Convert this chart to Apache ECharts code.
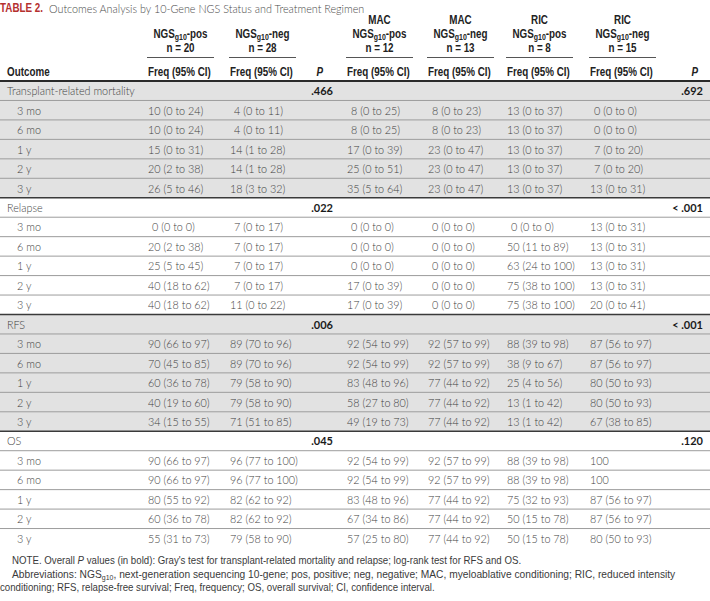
<!DOCTYPE html>
<html><head><meta charset="utf-8">
<script src="https://cdn.jsdelivr.net/npm/echarts@6/dist/echarts.min.js"></script>
<style>html,body{margin:0;padding:0;background:#fff}#c{width:710px;height:601px}</style>
</head><body><div id="c"></div>
<script>
// ---------- DATA ----------
const sections = ['Transplant-related mortality', 'Relapse', 'RFS', 'OS'];
const timepoints = ['3 mo', '6 mo', '1 y', '2 y', '3 y'];
const pByNgs = ['.466', '.022', '.006', '.045'];
const pByRegimen = ['.692', '< .001', '< .001', '.120'];

const groupRegimen = ['', '', 'MAC', 'MAC', 'RIC', 'RIC'];
const groupStatus = ['pos', 'neg', 'pos', 'neg', 'pos', 'neg'];
const groupN = [20, 28, 12, 13, 8, 15];

const ngsPos = [
  '10 (0 to 24)', '10 (0 to 24)', '15 (0 to 31)', '20 (2 to 38)', '26 (5 to 46)',
  '0 (0 to 0)', '20 (2 to 38)', '25 (5 to 45)', '40 (18 to 62)', '40 (18 to 62)',
  '90 (66 to 97)', '70 (45 to 85)', '60 (36 to 78)', '40 (19 to 60)', '34 (15 to 55)',
  '90 (66 to 97)', '90 (66 to 97)', '80 (55 to 92)', '60 (36 to 78)', '55 (31 to 73)'
];
const ngsNeg = [
  '4 (0 to 11)', '4 (0 to 11)', '14 (1 to 28)', '14 (1 to 28)', '18 (3 to 32)',
  '7 (0 to 17)', '7 (0 to 17)', '7 (0 to 17)', '7 (0 to 17)', '11 (0 to 22)',
  '89 (70 to 96)', '89 (70 to 96)', '79 (58 to 90)', '79 (58 to 90)', '71 (51 to 85)',
  '96 (77 to 100)', '96 (77 to 100)', '82 (62 to 92)', '82 (62 to 92)', '79 (58 to 90)'
];
const macPos = [
  '8 (0 to 25)', '8 (0 to 25)', '17 (0 to 39)', '25 (0 to 51)', '35 (5 to 64)',
  '0 (0 to 0)', '0 (0 to 0)', '0 (0 to 0)', '17 (0 to 39)', '17 (0 to 39)',
  '92 (54 to 99)', '92 (54 to 99)', '83 (48 to 96)', '58 (27 to 80)', '49 (19 to 73)',
  '92 (54 to 99)', '92 (54 to 99)', '83 (48 to 96)', '67 (34 to 86)', '57 (25 to 80)'
];
const macNeg = [
  '8 (0 to 23)', '8 (0 to 23)', '23 (0 to 47)', '23 (0 to 47)', '23 (0 to 47)',
  '0 (0 to 0)', '0 (0 to 0)', '0 (0 to 0)', '0 (0 to 0)', '0 (0 to 0)',
  '92 (57 to 99)', '92 (57 to 99)', '77 (44 to 92)', '77 (44 to 92)', '77 (44 to 92)',
  '92 (57 to 99)', '92 (57 to 99)', '77 (44 to 92)', '77 (44 to 92)', '77 (44 to 92)'
];
const ricPos = [
  '13 (0 to 37)', '13 (0 to 37)', '13 (0 to 37)', '13 (0 to 37)', '13 (0 to 37)',
  '0 (0 to 0)', '50 (11 to 89)', '63 (24 to 100)', '75 (38 to 100)', '75 (38 to 100)',
  '88 (39 to 98)', '38 (9 to 67)', '25 (4 to 56)', '13 (1 to 42)', '13 (1 to 42)',
  '88 (39 to 98)', '88 (39 to 98)', '75 (32 to 93)', '50 (15 to 78)', '50 (15 to 78)'
];
const ricNeg = [
  '0 (0 to 0)', '0 (0 to 0)', '7 (0 to 20)', '7 (0 to 20)', '13 (0 to 31)',
  '13 (0 to 31)', '13 (0 to 31)', '13 (0 to 31)', '13 (0 to 31)', '20 (0 to 41)',
  '87 (56 to 97)', '87 (56 to 97)', '80 (50 to 93)', '80 (50 to 93)', '67 (38 to 85)',
  '100', '100', '87 (56 to 97)', '87 (56 to 97)', '80 (50 to 93)'
];

const titleLabel = 'TABLE 2.';
const titleText = 'Outcomes Analysis by 10-Gene NGS Status and Treatment Regimen';
const colHeader = 'Freq (95% CI)';

// ---------- LAYOUT / STYLE ----------
const W = 710;
const L = { labelX: 7, indentX: 17, colX: [148, 230, 347, 428, 507, 590], p1X: 333, p2X: 703, pad1: 4 };
const FONT_BODY = 'Lato, "Liberation Sans", Arial, sans-serif';
const FONT_HEAD = '"Liberation Sans", Arial, sans-serif';
const NARROW = 0.82;
const SHADE = '#e2e2e2';
const BODY_COLOR = '#3f3f3f';
const BODY_SIZE = 10.8;

// build row list from arrays
const columns = [ngsPos, ngsNeg, macPos, macNeg, ricPos, ricNeg];
const rows = [];
sections.forEach((s, si) => {
  rows.push({ kind: 'section', sec: si, label: s, p1: pByNgs[si], p2: pByRegimen[si] });
  timepoints.forEach((t, ti) => {
    rows.push({ kind: 'time', sec: si, label: t, vals: columns.map(c => c[si * 5 + ti]) });
  });
});

function bodyText(x, y, text, align, bold) {
  return {
    type: 'text', z2: 20,
    style: {
      x: x, y: y, text: text, align: align || 'left', verticalAlign: 'middle',
      fontFamily: FONT_BODY, fontSize: bold ? 11 : BODY_SIZE, fontWeight: bold ? 'bold' : 300,
      fill: bold ? '#1a1a1a' : BODY_COLOR
    }
  };
}

function renderItem(params, api) {
  const i = api.value(1);
  const r = rows[i];
  const cy = api.coord([0, i])[1];
  const h = api.size([0, 1])[1];
  const X = v => api.coord([v, i])[0];
  const top = cy - h / 2, bot = cy + h / 2;
  const ch = [];
  ch.push({ type: 'rect', z2: 0, shape: { x: X(0), y: top, width: X(W) - X(0), height: h },
    style: { fill: r.sec % 2 === 0 ? SHADE : '#ffffff' } });
  if (r.kind === 'section') {
    ch.push(bodyText(X(L.labelX), cy, r.label, 'left'));
    ch.push(bodyText(X(L.p1X), cy, r.p1, 'right', true));
    ch.push(bodyText(X(L.p2X), cy, r.p2, 'right', true));
  } else {
    ch.push(bodyText(X(L.indentX), cy, r.label, 'left'));
    r.vals.forEach((v, k) => {
      const pad = /^\d\s/.test(v) ? L.pad1 : 0;
      ch.push(bodyText(X(L.colX[k] + pad), cy, v, 'left'));
    });
  }
  if (i === 0) {
    ch.push({ type: 'line', z2: 12, shape: { x1: X(0), y1: top, x2: X(W), y2: top },
      style: { stroke: '#2a2a2a', lineWidth: 2 } });
  }
  if (i < rows.length - 1) {
    const secEnd = rows[i + 1].kind === 'section';
    ch.push({ type: 'line', z2: 10, shape: { x1: X(0), y1: bot, x2: X(W), y2: bot },
      style: { stroke: secEnd ? '#3a3a3a' : '#9c9c9c', lineWidth: secEnd ? 1.6 : 1 } });
  }
  return { type: 'group', children: ch };
}

// ---------- HEADER / NOTES (graphic text) ----------
function headText(x, y, text, align, extra) {
  return {
    type: 'text', x: x, y: y, scaleX: NARROW,
    style: Object.assign({ text: text, align: align, verticalAlign: 'middle',
      fontFamily: FONT_HEAD, fontWeight: 'bold', fontSize: 12, fill: '#222' }, extra || {})
  };
}
const subRich = {
  s: { fontFamily: FONT_HEAD, fontWeight: 'bold', fontSize: 8.5, fill: '#222', verticalAlign: 'bottom', lineHeight: 9 }
};
const headW = 65;
const graphics = [];
graphics.push(headText(0, 8, titleLabel, 'left', { fill: '#b5302e' }));
graphics.push({ type: 'text', x: 49, y: 8, style: { text: titleText, align: 'left', verticalAlign: 'middle',
  fontFamily: FONT_BODY, fontWeight: 300, fontSize: 10.8, fill: '#4a4a4a' } });

L.colX.forEach((cx, k) => {
  const center = cx + headW / 2;
  if (groupRegimen[k]) graphics.push(headText(center, 20, groupRegimen[k], 'center'));
  graphics.push(headText(center, 34, 'NGS{s|g10}-' + groupStatus[k], 'center', { lineHeight: 15, rich: subRich }));
  graphics.push(headText(center, 48, 'n = ' + groupN[k], 'center'));
  graphics.push({ type: 'line', shape: { x1: cx - 1, y1: 57.5, x2: cx + headW + 1, y2: 57.5 }, style: { stroke: '#555', lineWidth: 1 } });
  graphics.push(headText(cx, 72, colHeader, 'left'));
});
graphics.push(headText(L.labelX, 72, 'Outcome', 'left'));
[L.p1X - 10, L.p2X - 5].forEach(px => {
  graphics.push(headText(px, 72, 'P', 'right', { fontStyle: 'italic' }));
});

const NOTE_SIZE = 11;
const noteRich = {
  n: { fontFamily: FONT_HEAD, fontSize: NOTE_SIZE, fill: '#3a3a3a' },
  i: { fontFamily: FONT_HEAD, fontSize: NOTE_SIZE, fill: '#3a3a3a', fontStyle: 'italic' },
  s: { fontFamily: FONT_HEAD, fontSize: 7.5, fill: '#3a3a3a', verticalAlign: 'bottom', lineHeight: 8 }
};
function noteText(x, y, text, sx) {
  return { type: 'text', x: x, y: y, scaleX: sx || 0.88,
    style: { verticalAlign: 'middle', lineHeight: 14, rich: noteRich, text: text } };
}
graphics.push(noteText(12, 560, '{n|NOTE. Overall }{i|P}{n| values (in bold): Gray\'s test for transplant-related mortality and relapse; log-rank test for RFS and OS.}'));
graphics.push(noteText(12, 574, '{n|Abbreviations: NGS}{s|g10}{n|, next-generation sequencing 10-gene; pos, positive; neg, negative; MAC, myeloablative conditioning; RIC, reduced intensity}', 0.93));
graphics.push(noteText(0, 587, '{n|conditioning; RFS, relapse-free survival; Freq, frequency; OS, overall survival; CI, confidence interval.}'));

// ---------- CHART ----------
const chart = echarts.init(document.getElementById('c'), null, { renderer: 'svg' });
chart.setOption({
  animation: false,
  backgroundColor: '#ffffff',
  grid: { left: 0, right: 0, top: 81, height: 467, containLabel: false },
  xAxis: { type: 'value', min: 0, max: W, show: false },
  yAxis: { type: 'category', data: rows.map(r => r.label), inverse: true, show: false },
  graphic: graphics,
  series: [{
    type: 'custom',
    renderItem: renderItem,
    encode: { x: 0, y: 1 },
    data: rows.map((r, i) => [0, i]),
    silent: true
  }]
});
</script></body></html>
